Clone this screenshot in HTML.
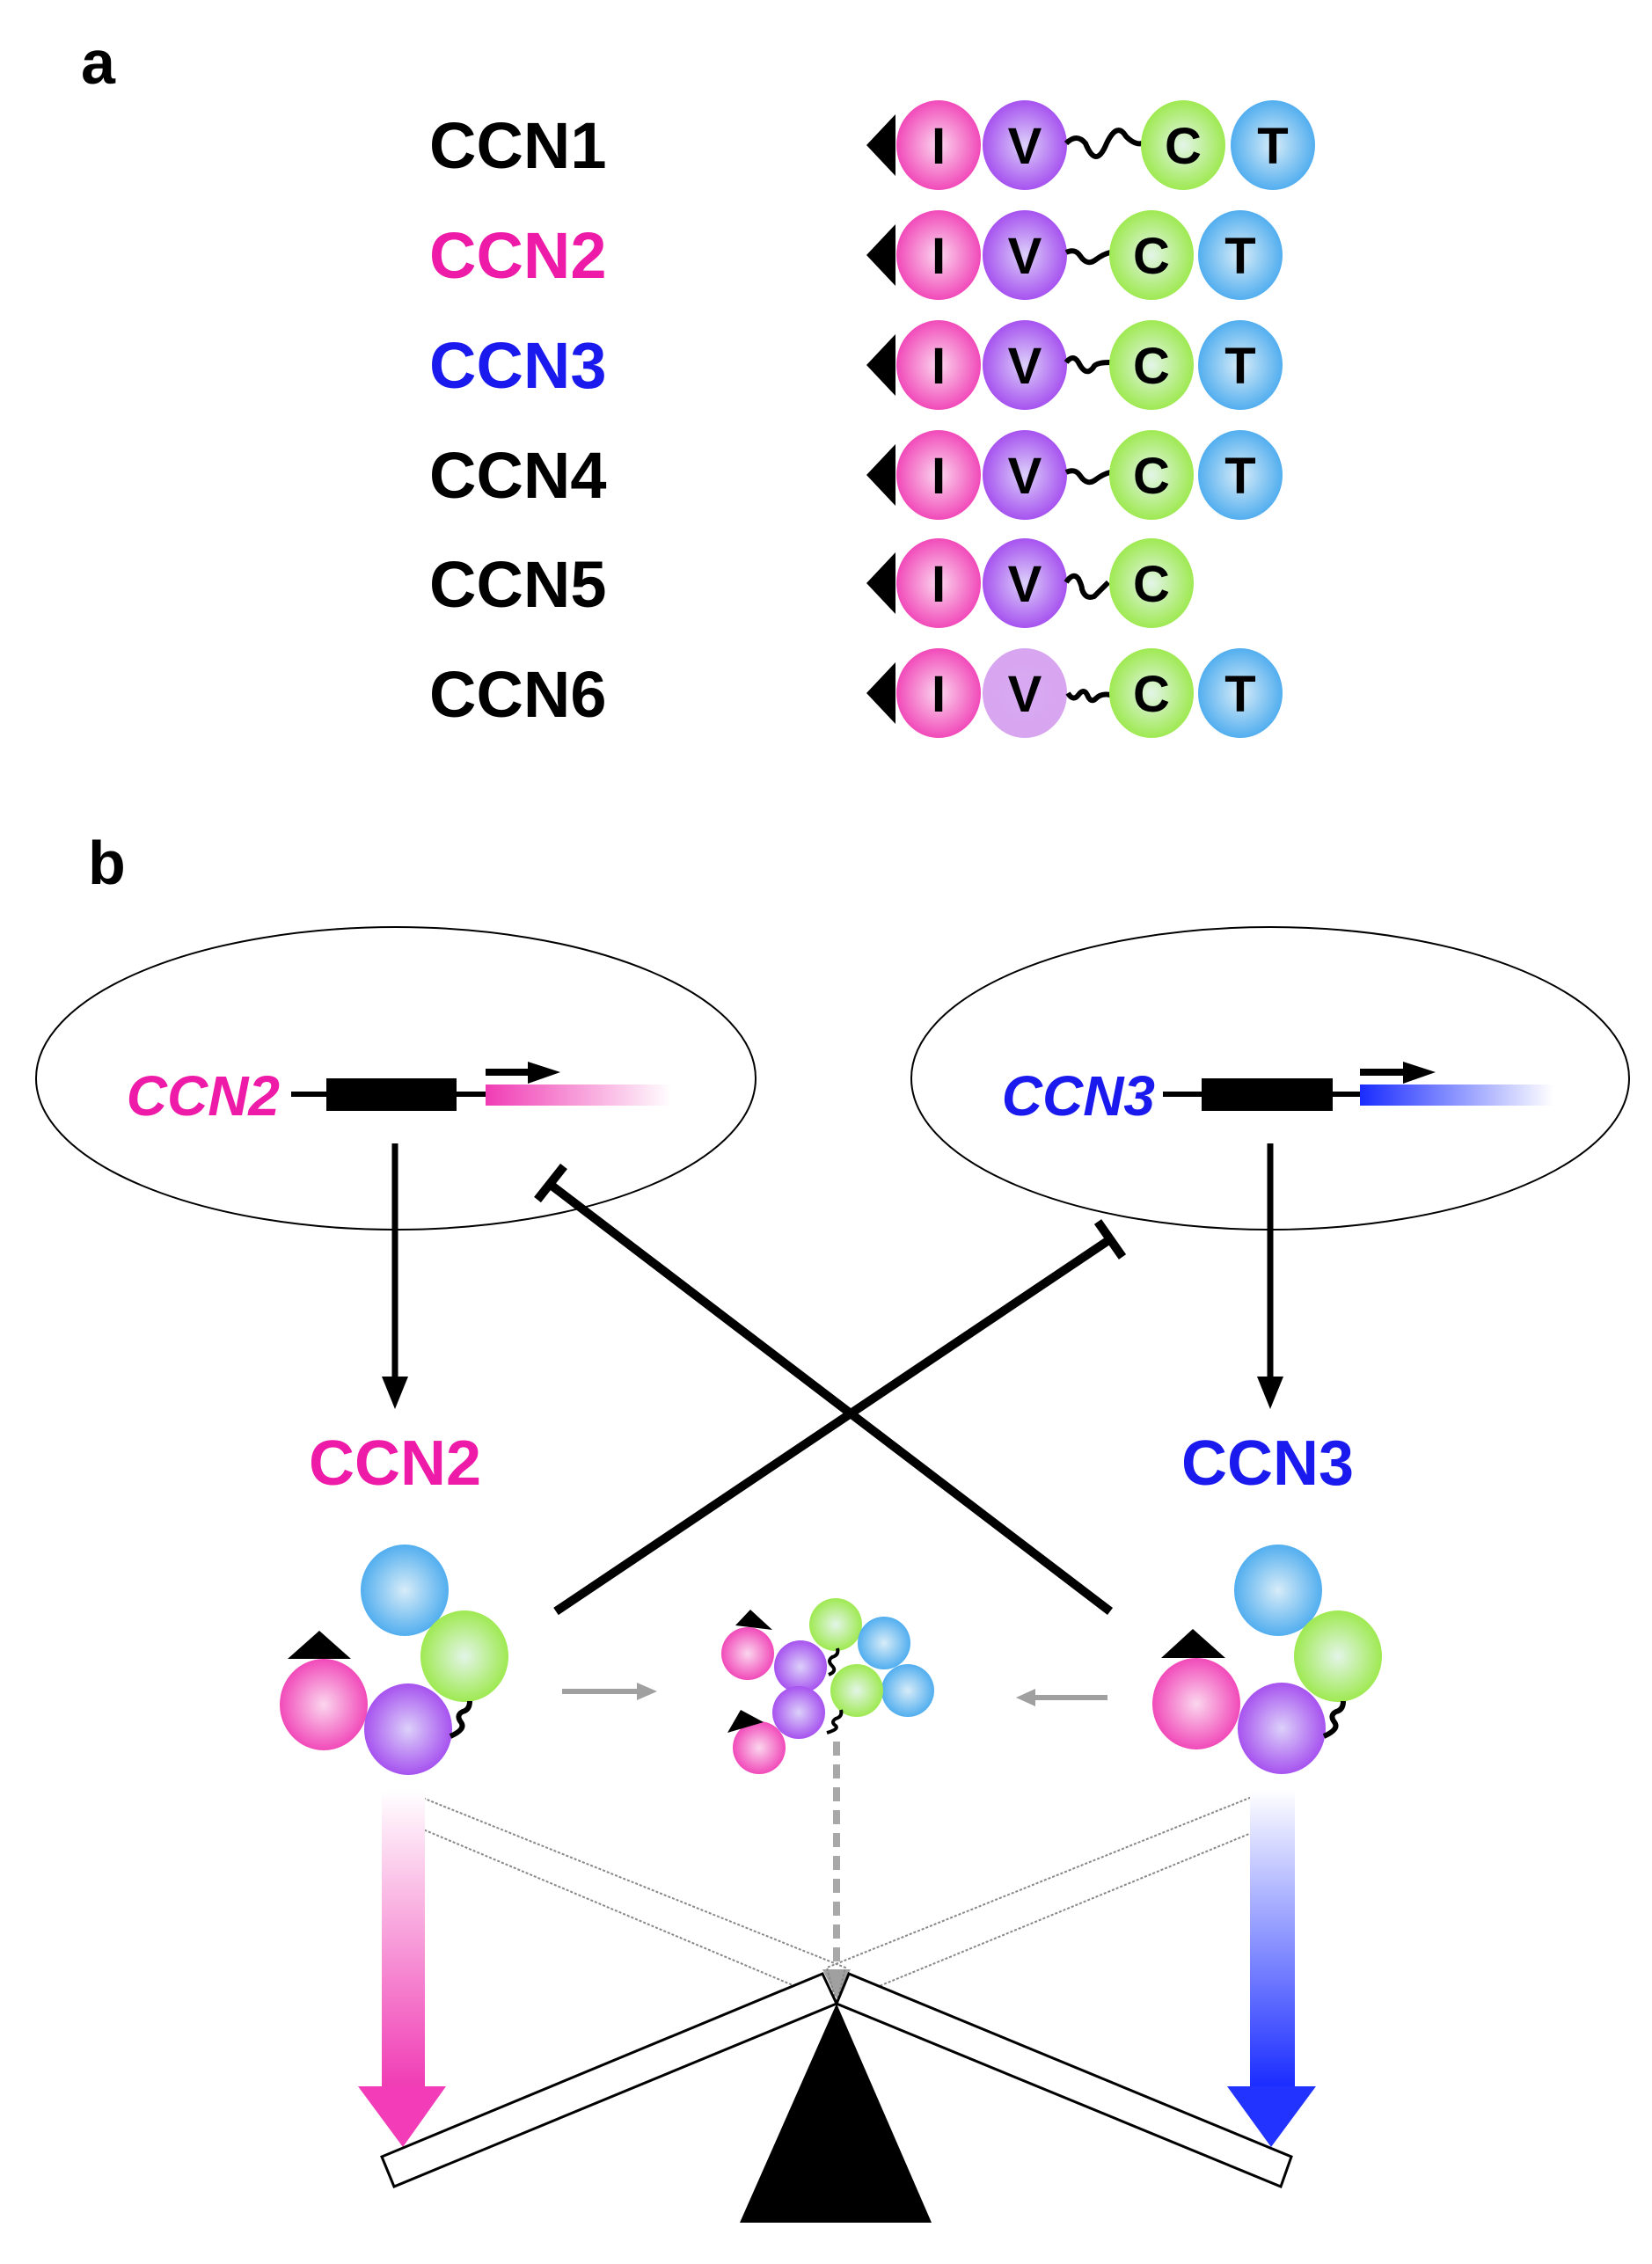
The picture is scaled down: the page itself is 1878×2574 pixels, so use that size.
<!DOCTYPE html>
<html><head><meta charset="utf-8"><style>
html,body{margin:0;padding:0;background:#fff;}
svg{display:block;}
text{font-family:"Liberation Sans",Arial,sans-serif;font-weight:bold;}
</style></head><body>
<svg width="1878" height="2574" viewBox="0 0 1878 2574" xmlns="http://www.w3.org/2000/svg">
<defs>
<radialGradient id="gP" cx="50%" cy="50%" r="55%"><stop offset="0" stop-color="#fbd6ee"/><stop offset="1" stop-color="#f03cb4"/></radialGradient>
<radialGradient id="gV" cx="50%" cy="50%" r="55%"><stop offset="0" stop-color="#dcd0fa"/><stop offset="1" stop-color="#a146ee"/></radialGradient>
<radialGradient id="gV2" cx="50%" cy="50%" r="55%"><stop offset="0" stop-color="#d8aaf2"/><stop offset="1" stop-color="#d8a4f0"/></radialGradient>
<radialGradient id="gG" cx="50%" cy="50%" r="55%"><stop offset="0" stop-color="#e3f5e8"/><stop offset="1" stop-color="#98e843"/></radialGradient>
<radialGradient id="gB" cx="50%" cy="50%" r="55%"><stop offset="0" stop-color="#d7ecf8"/><stop offset="1" stop-color="#45a8ee"/></radialGradient>
<linearGradient id="lgP" x1="0" y1="0" x2="1" y2="0"><stop offset="0" stop-color="#f03cb4"/><stop offset="1" stop-color="#f03cb4" stop-opacity="0"/></linearGradient>
<linearGradient id="lgB" x1="0" y1="0" x2="1" y2="0"><stop offset="0" stop-color="#1a2cff"/><stop offset="1" stop-color="#1a2cff" stop-opacity="0"/></linearGradient>
<linearGradient id="vP" x1="0" y1="0" x2="0" y2="1"><stop offset="0" stop-color="#fff"/><stop offset="1" stop-color="#f03cb4"/></linearGradient>
<linearGradient id="vB" x1="0" y1="0" x2="0" y2="1"><stop offset="0" stop-color="#fff"/><stop offset="1" stop-color="#1a2cff"/></linearGradient>
</defs>

<text x="92" y="95" font-size="70">a</text>
<g font-size="74">
<text x="488" y="191">CCN1</text>
<text x="488" y="316" fill="#ee1aa8">CCN2</text>
<text x="488" y="441" fill="#1a1aee">CCN3</text>
<text x="488" y="566">CCN4</text>
<text x="488" y="690">CCN5</text>
<text x="488" y="815">CCN6</text>
</g>

<g id="rows" font-size="58" text-anchor="middle">
<polygon points="985,165 1018,130 1018,200"/>
<ellipse cx="1067" cy="165" rx="48" ry="51" fill="url(#gP)"/><text x="1067" y="186">I</text>
<ellipse cx="1165" cy="165" rx="48" ry="51" fill="url(#gV)"/><text x="1165" y="186">V</text>
<path d="M1212,163 q12,-12 22,0 q12,30 24,0 q12,-25 22,-8 q10,10 18,8" fill="none" stroke="#000" stroke-width="6"/>
<ellipse cx="1345" cy="165" rx="48" ry="51" fill="url(#gG)"/><text x="1345" y="186">C</text>
<ellipse cx="1447" cy="165" rx="48" ry="51" fill="url(#gB)"/><text x="1447" y="186">T</text>

<polygon points="985,290 1018,255 1018,325"/>
<ellipse cx="1067" cy="290" rx="48" ry="51" fill="url(#gP)"/><text x="1067" y="311">I</text>
<ellipse cx="1165" cy="290" rx="48" ry="51" fill="url(#gV)"/><text x="1165" y="311">V</text>
<path d="M1212,287 q10,-5 16,4 q8,12 18,4 q8,-6 16,-8" fill="none" stroke="#000" stroke-width="6"/>
<ellipse cx="1309" cy="290" rx="48" ry="51" fill="url(#gG)"/><text x="1309" y="311">C</text>
<ellipse cx="1410" cy="290" rx="48" ry="51" fill="url(#gB)"/><text x="1410" y="311">T</text>

<polygon points="985,415 1018,380 1018,450"/>
<ellipse cx="1067" cy="415" rx="48" ry="51" fill="url(#gP)"/><text x="1067" y="436">I</text>
<ellipse cx="1165" cy="415" rx="48" ry="51" fill="url(#gV)"/><text x="1165" y="436">V</text>
<path d="M1212,412 q8,-10 14,0 q6,12 12,10 q4,-2 6,-6 q4,-4 18,-4" fill="none" stroke="#000" stroke-width="6"/>
<ellipse cx="1309" cy="415" rx="48" ry="51" fill="url(#gG)"/><text x="1309" y="436">C</text>
<ellipse cx="1410" cy="415" rx="48" ry="51" fill="url(#gB)"/><text x="1410" y="436">T</text>

<polygon points="985,540 1018,505 1018,575"/>
<ellipse cx="1067" cy="540" rx="48" ry="51" fill="url(#gP)"/><text x="1067" y="561">I</text>
<ellipse cx="1165" cy="540" rx="48" ry="51" fill="url(#gV)"/><text x="1165" y="561">V</text>
<path d="M1212,537 q10,-5 16,4 q8,12 18,4 q8,-6 16,-8" fill="none" stroke="#000" stroke-width="6"/>
<ellipse cx="1309" cy="540" rx="48" ry="51" fill="url(#gG)"/><text x="1309" y="561">C</text>
<ellipse cx="1410" cy="540" rx="48" ry="51" fill="url(#gB)"/><text x="1410" y="561">T</text>

<polygon points="985,663 1018,628 1018,698"/>
<ellipse cx="1067" cy="663" rx="48" ry="51" fill="url(#gP)"/><text x="1067" y="684">I</text>
<ellipse cx="1165" cy="663" rx="48" ry="51" fill="url(#gV)"/><text x="1165" y="684">V</text>
<path d="M1212,662 q8,-12 14,-4 q4,8 4,12 q4,12 14,8 q6,-6 16,-16" fill="none" stroke="#000" stroke-width="6"/>
<ellipse cx="1309" cy="663" rx="48" ry="51" fill="url(#gG)"/><text x="1309" y="684">C</text>

<polygon points="985,788 1018,753 1018,823"/>
<ellipse cx="1067" cy="788" rx="48" ry="51" fill="url(#gP)"/><text x="1067" y="809">I</text>
<ellipse cx="1165" cy="788" rx="48" ry="51" fill="url(#gV2)"/><text x="1165" y="809">V</text>
<path d="M1214,788 q6,10 12,2 q6,-8 10,0 q4,10 10,4 q6,-6 16,-4" fill="none" stroke="#000" stroke-width="6"/>
<ellipse cx="1309" cy="788" rx="48" ry="51" fill="url(#gG)"/><text x="1309" y="809">C</text>
<ellipse cx="1410" cy="788" rx="48" ry="51" fill="url(#gB)"/><text x="1410" y="809">T</text>
</g>

<text x="100" y="1005" font-size="70">b</text>
<ellipse cx="450" cy="1226" rx="409" ry="172" fill="none" stroke="#000" stroke-width="2"/>
<ellipse cx="1444" cy="1226" rx="408" ry="172" fill="none" stroke="#000" stroke-width="2"/>

<g transform="translate(0,10)">
<text x="318" y="1258" font-size="64" font-style="italic" fill="#ee1aa8" text-anchor="end">CCN2</text>
<line x1="331" y1="1234" x2="372" y2="1234" stroke="#000" stroke-width="6"/>
<rect x="371" y="1216" width="148" height="37"/>
<line x1="519" y1="1234" x2="553" y2="1234" stroke="#000" stroke-width="6"/>
<rect x="552" y="1223" width="212" height="24" fill="url(#lgP)"/>
<line x1="552" y1="1209" x2="605" y2="1209" stroke="#000" stroke-width="8"/>
<polygon points="600,1197 637,1209 600,1222"/>

<text x="1313" y="1258" font-size="64" font-style="italic" fill="#1a1aee" text-anchor="end">CCN3</text>
<line x1="1322" y1="1234" x2="1367" y2="1234" stroke="#000" stroke-width="6"/>
<rect x="1366" y="1216" width="149" height="37"/>
<line x1="1515" y1="1234" x2="1547" y2="1234" stroke="#000" stroke-width="6"/>
<rect x="1546" y="1223" width="220" height="24" fill="url(#lgB)"/>
<line x1="1546" y1="1209" x2="1600" y2="1209" stroke="#000" stroke-width="8"/>
<polygon points="1595,1197 1632,1209 1595,1222"/>
</g>

<line x1="449" y1="1300" x2="449" y2="1570" stroke="#000" stroke-width="7"/>
<polygon points="434,1565 464,1565 449,1602"/>
<line x1="1444" y1="1300" x2="1444" y2="1570" stroke="#000" stroke-width="7"/>
<polygon points="1429,1565 1459,1565 1444,1602"/>

<text x="449" y="1688" font-size="72" fill="#ee1aa8" text-anchor="middle">CCN2</text>
<text x="1441" y="1688" font-size="72" fill="#1a1aee" text-anchor="middle">CCN3</text>

<g stroke="#000" stroke-width="10">
<line x1="632" y1="1832" x2="1262" y2="1409"/>
<line x1="1248" y1="1389" x2="1276" y2="1429"/>
<line x1="1262" y1="1832" x2="626" y2="1347"/>
<line x1="611" y1="1364" x2="641" y2="1326"/>
</g>

<ellipse cx="460" cy="1808" rx="50" ry="52" fill="url(#gB)"/>
<ellipse cx="528" cy="1883" rx="50" ry="52" fill="url(#gG)"/>
<ellipse cx="368" cy="1938" rx="50" ry="52" fill="url(#gP)"/>
<ellipse cx="464" cy="1966" rx="50" ry="52" fill="url(#gV)"/>
<polygon points="327,1886 399,1886 363,1854"/>
<path d="M534,1934 q0,10 -8,12 q-8,4 -2,12 q6,8 -12,16" fill="none" stroke="#000" stroke-width="6"/>

<ellipse cx="1453" cy="1808" rx="50" ry="52" fill="url(#gB)"/>
<ellipse cx="1521" cy="1883" rx="50" ry="52" fill="url(#gG)"/>
<ellipse cx="1360" cy="1937" rx="50" ry="52" fill="url(#gP)"/>
<ellipse cx="1457" cy="1965" rx="50" ry="52" fill="url(#gV)"/>
<polygon points="1320,1885 1393,1885 1356,1852"/>
<path d="M1527,1934 q0,10 -8,12 q-8,4 -2,12 q6,8 -12,16" fill="none" stroke="#000" stroke-width="6"/>

<line x1="639" y1="1923" x2="725" y2="1923" stroke="#a0a0a0" stroke-width="6"/>
<polygon points="724,1913 747,1923 724,1933" fill="#a0a0a0"/>
<line x1="1259" y1="1930" x2="1175" y2="1930" stroke="#a0a0a0" stroke-width="6"/>
<polygon points="1177,1920 1155,1930 1177,1940" fill="#a0a0a0"/>

<ellipse cx="950" cy="1847" rx="30" ry="30" fill="url(#gG)"/>
<ellipse cx="1005" cy="1868" rx="30" ry="30" fill="url(#gB)"/>
<ellipse cx="1032" cy="1922" rx="30" ry="30" fill="url(#gB)"/>
<ellipse cx="974" cy="1922" rx="30" ry="30" fill="url(#gG)"/>
<ellipse cx="850" cy="1880" rx="30" ry="30" fill="url(#gP)"/>
<ellipse cx="910" cy="1895" rx="30" ry="30" fill="url(#gV)"/>
<ellipse cx="908" cy="1947" rx="30" ry="30" fill="url(#gV)"/>
<ellipse cx="863" cy="1987" rx="30" ry="30" fill="url(#gP)"/>
<polygon points="836,1848 878,1853 853,1830"/>
<polygon points="827,1970 868,1958 842,1944"/>
<path d="M952,1874 q2,8 -6,10 q-6,4 0,10 q6,6 -4,10" fill="none" stroke="#000" stroke-width="4"/>
<path d="M956,1944 q2,8 -6,10 q-6,4 0,8 q4,4 -10,8" fill="none" stroke="#000" stroke-width="4"/>

<line x1="951" y1="1980" x2="951" y2="2240" stroke="#a8a8a8" stroke-width="8" stroke-dasharray="16,10"/>
<polygon points="935,2239 967,2239 951,2272" fill="#a0a0a0"/>

<polygon points="463,2037 448,2066 951,2278 961,2237" fill="none" stroke="#888" stroke-width="2" stroke-dasharray="3,2"/>
<polygon points="1438,2037 1454,2071 951,2278 940,2237" fill="none" stroke="#888" stroke-width="2" stroke-dasharray="3,2"/>

<rect x="434" y="2035" width="49" height="338" fill="url(#vP)"/>
<polygon points="407,2372 507,2372 458,2441" fill="#f23cb8"/>
<rect x="1421" y="2035" width="51" height="338" fill="url(#vB)"/>
<polygon points="1395,2372 1496,2372 1445,2441" fill="#2233ff"/>

<polygon points="434,2452 448,2486 951,2278 935,2244" fill="#fff" stroke="#000" stroke-width="3"/>
<polygon points="965,2244 1468,2452 1456,2486 951,2278" fill="#fff" stroke="#000" stroke-width="3"/>
<polygon points="951,2278 841,2527 1059,2527"/>
</svg>
</body></html>
